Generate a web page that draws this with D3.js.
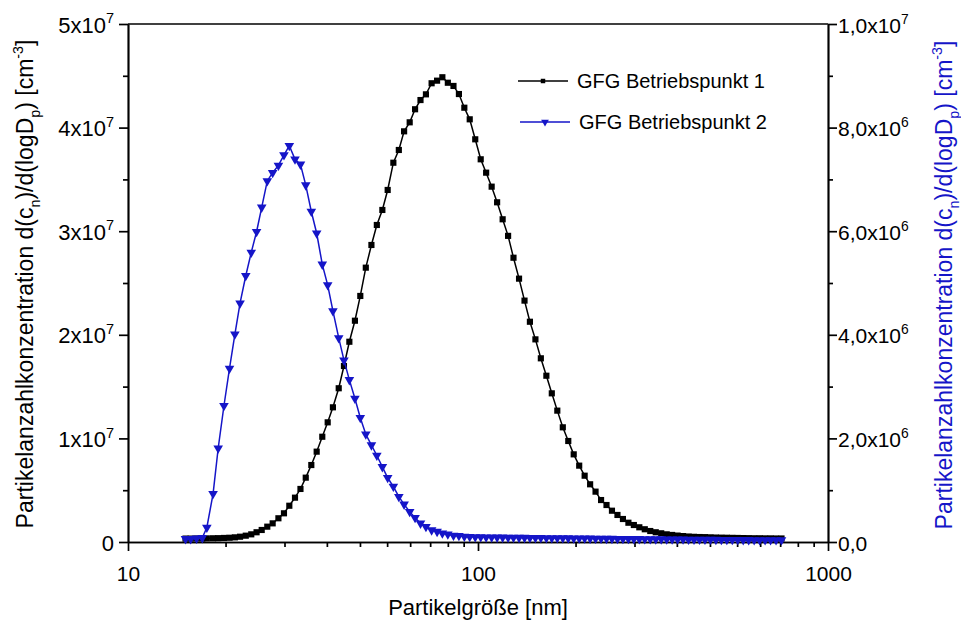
<!DOCTYPE html>
<html lang="de">
<head>
  <meta charset="UTF-8">
  <script src="https://d3js.org/d3.v7.min.js"></script>
  <title>Partikelgrößenverteilung</title>
  <style>
    body { margin: 0; background: #fff; }
    svg text { font-family: "Liberation Sans", Arial, sans-serif; fill: #000; }
  </style>
</head>
<body>
<script>
  // SMPS channel midpoints [nm]
  const diameters = [
    14.6, 15.1, 15.7, 16.3, 16.8, 17.5, 18.1, 18.8, 19.5, 20.2,
    20.9, 21.7, 22.5, 23.3, 24.1, 25.0, 25.9, 26.9, 27.9, 28.9,
    30.0, 31.1, 32.2, 33.4, 34.6, 35.9, 37.2, 38.5, 40.0, 41.4,
    42.9, 44.5, 46.1, 47.8, 49.6, 51.4, 53.3, 55.2, 57.3, 59.4,
    61.5, 63.8, 66.1, 68.5, 71.0, 73.7, 76.4, 79.1, 82.0, 85.1,
    88.2, 91.4, 94.7, 98.2, 101.8, 105.5, 109.4, 113.4, 117.6, 121.9,
    126.3, 131.0, 135.8, 140.7, 145.9, 151.2, 156.8, 162.5, 168.5, 174.7,
    181.1, 187.7, 194.6, 201.7, 209.1, 216.7, 224.7, 232.9, 241.4, 250.3,
    259.5, 269.0, 278.8, 289.0, 299.6, 310.6, 322.0, 333.8, 346.0, 358.7,
    371.8, 385.4, 399.5, 414.2, 429.4, 445.1, 461.4, 478.3, 495.8, 514.0,
    532.8, 552.3, 572.5, 593.5, 615.3, 637.8, 661.2, 685.4, 710.5, 736.5
  ];

  // GFG Betriebspunkt 1 (left axis), cm^-3
  const gfg1 = [
    0.33e6, 0.33e6, 0.34e6, 0.34e6, 0.35e6, 0.36e6, 0.37e6, 0.39e6, 0.41e6, 0.45e6,
    0.51e6, 0.61e6, 0.74e6, 0.94e6, 1.16e6, 1.48e6, 1.80e6, 2.29e6, 2.77e6, 3.50e6,
    4.28e6, 5.12e6, 6.21e6, 7.43e6, 8.72e6, 10.16e6, 11.55e6, 13.00e6, 14.84e6, 16.99e6,
    19.33e6, 21.36e6, 23.75e6, 26.48e6, 28.67e6, 30.60e6, 32.05e6, 33.98e6, 36.61e6, 37.84e6,
    39.64e6, 40.51e6, 41.77e6, 42.66e6, 43.21e6, 44.28e6, 44.53e6, 44.86e6, 44.33e6, 44.02e6,
    43.24e6, 41.92e6, 40.80e6, 38.87e6, 36.94e6, 35.65e6, 34.30e6, 32.79e6, 31.15e6, 29.55e6,
    27.44e6, 25.42e6, 23.30e6, 21.26e6, 19.56e6, 17.73e6, 16.05e6, 14.35e6, 12.68e6, 11.07e6,
    9.75e6, 8.46e6, 7.37e6, 6.40e6, 5.57e6, 4.86e6, 4.05e6, 3.57e6, 3.02e6, 2.61e6,
    2.22e6, 1.86e6, 1.64e6, 1.42e6, 1.23e6, 1.06e6, 0.94e6, 0.84e6, 0.74e6, 0.68e6,
    0.62e6, 0.57e6, 0.53e6, 0.50e6, 0.48e6, 0.47e6, 0.45e6, 0.43e6, 0.42e6, 0.41e6,
    0.40e6, 0.39e6, 0.38e6, 0.37e6, 0.36e6, 0.36e6, 0.35e6, 0.35e6, 0.34e6, 0.34e6
  ];

  // GFG Betriebspunkt 2 (right axis), cm^-3
  const gfg2 = [
    0.06e6, 0.06e6, 0.07e6, 0.08e6, 0.28e6, 0.93e6, 1.81e6, 2.63e6, 3.35e6, 4.01e6,
    4.61e6, 5.14e6, 5.59e6, 5.99e6, 6.46e6, 6.97e6, 7.13e6, 7.27e6, 7.47e6, 7.65e6,
    7.39e6, 7.29e6, 6.89e6, 6.38e6, 5.96e6, 5.36e6, 4.96e6, 4.46e6, 3.94e6, 3.51e6,
    3.13e6, 2.77e6, 2.40e6, 2.08e6, 1.87e6, 1.67e6, 1.45e6, 1.24e6, 1.07e6, 0.875e6,
    0.727e6, 0.585e6, 0.470e6, 0.360e6, 0.296e6, 0.230e6, 0.200e6, 0.168e6, 0.149e6, 0.125e6,
    0.120e6, 0.105e6, 0.100e6, 0.097e6, 0.096e6, 0.093e6, 0.092e6, 0.090e6, 0.089e6, 0.087e6,
    0.086e6, 0.085e6, 0.084e6, 0.083e6, 0.081e6, 0.081e6, 0.079e6, 0.078e6, 0.077e6, 0.076e6,
    0.075e6, 0.073e6, 0.073e6, 0.071e6, 0.070e6, 0.069e6, 0.068e6, 0.066e6, 0.066e6, 0.064e6,
    0.063e6, 0.062e6, 0.061e6, 0.060e6, 0.059e6, 0.058e6, 0.056e6, 0.056e6, 0.055e6, 0.054e6,
    0.053e6, 0.052e6, 0.050e6, 0.050e6, 0.049e6, 0.048e6, 0.047e6, 0.046e6, 0.045e6, 0.044e6,
    0.043e6, 0.042e6, 0.041e6, 0.041e6, 0.040e6, 0.040e6, 0.039e6, 0.039e6, 0.038e6, 0.038e6
  ];

  // axis ticks
  const xMajor = [10, 100, 1000];
  const xMinor = [19, 28, 37, 46, 55, 64, 73, 82, 91, 190, 280, 370, 460, 550, 640, 730, 820, 910];
  const leftMajor = [0, 1e7, 2e7, 3e7, 4e7, 5e7];
  const leftMinor = [0.5e7, 1.5e7, 2.5e7, 3.5e7, 4.5e7];
  const leftLabels = [["0", ""], ["1x10", "7"], ["2x10", "7"], ["3x10", "7"], ["4x10", "7"], ["5x10", "7"]];
  const rightMajor = [0, 2e6, 4e6, 6e6, 8e6, 1e7];
  const rightMinor = [1e6, 3e6, 5e6, 7e6, 9e6];
  const rightLabels = [["0,0", ""], ["2,0x10", "6"], ["4,0x10", "6"], ["6,0x10", "6"], ["8,0x10", "6"], ["1,0x10", "7"]];
  const seriesNames = ["GFG Betriebspunkt 1", "GFG Betriebspunkt 2"];

  const width = 961, height = 620;
  const blue = "#1515c8";
  const plot = { left: 128, right: 828, top: 24, bottom: 542 };

  const svg = d3.select("body").append("svg")
    .attr("width", width)
    .attr("height", height);

  const x = d3.scaleLog().domain([10, 1000]).range([plot.left, plot.right]);
  const yL = d3.scaleLinear().domain([0, 5e7]).range([plot.bottom, plot.top]);
  const yR = d3.scaleLinear().domain([0, 1e7]).range([plot.bottom, plot.top]);

  // helper: text with sub/superscript parts
  function richText(sel, parts, fs, small) {
    let shift = 0;
    parts.forEach(p => {
      if (!p.t) return;
      const ts = sel.append("tspan").text(p.t);
      let target = 0;
      if (p.k === "sub") target = fs * 0.3;
      if (p.k === "sup") target = -fs * 0.42;
      ts.attr("dy", target - shift);
      shift = target;
      ts.style("font-size", p.k ? (fs * (small || 0.62)) + "px" : fs + "px");
    });
  }

  // axes
  const axStroke = 1.7;
  function styleAxis(g) {
    g.selectAll("path, line").attr("stroke", "#000").attr("stroke-width", axStroke);
    g.selectAll("text").remove();
  }

  svg.append("g").attr("transform", `translate(0,${plot.bottom})`)
    .call(d3.axisBottom(x).tickValues(xMinor).tickSize(5).tickSizeOuter(0).tickFormat(""))
    .call(styleAxis);
  const xAx = svg.append("g").attr("transform", `translate(0,${plot.bottom})`)
    .call(d3.axisBottom(x).tickValues(xMajor).tickSize(9).tickSizeOuter(0).tickFormat(d3.format("d")))
    .call(g => g.selectAll("path, line").attr("stroke", "#000").attr("stroke-width", axStroke));
  xAx.selectAll("text")
    .attr("y", 39).attr("dy", 0)
    .style("font-size", "21px")
    .style("font-family", "'Liberation Sans', Arial, sans-serif")
    .attr("fill", "#000");

  svg.append("g").attr("transform", `translate(${plot.left},0)`)
    .call(d3.axisLeft(yL).tickValues(leftMinor).tickSize(5).tickSizeOuter(0).tickFormat(""))
    .call(styleAxis);
  const yAxL = svg.append("g").attr("transform", `translate(${plot.left},0)`)
    .call(d3.axisLeft(yL).tickValues(leftMajor).tickSize(9).tickSizeOuter(0).tickFormat(""))
    .call(styleAxis);
  yAxL.selectAll(".tick").each(function (d, i) {
    const t = d3.select(this).append("text")
      .attr("x", -14).attr("y", 8)
      .attr("text-anchor", "end");
    richText(t, [{ t: leftLabels[i][0] }, { t: leftLabels[i][1], k: "sup" }], 22, 0.66);
  });

  svg.append("g").attr("transform", `translate(${plot.right},0)`)
    .call(d3.axisRight(yR).tickValues(rightMinor).tickSize(5).tickSizeOuter(0).tickFormat(""))
    .call(styleAxis);
  const yAxR = svg.append("g").attr("transform", `translate(${plot.right},0)`)
    .call(d3.axisRight(yR).tickValues(rightMajor).tickSize(9).tickSizeOuter(0).tickFormat(""))
    .call(styleAxis);
  yAxR.selectAll(".tick").each(function (d, i) {
    const t = d3.select(this).append("text")
      .attr("x", 10).attr("y", 8)
      .attr("text-anchor", "start");
    richText(t, [{ t: rightLabels[i][0] }, { t: rightLabels[i][1], k: "sup" }], 21, 0.66);
  });

  // top frame line
  svg.append("line")
    .attr("x1", plot.left).attr("x2", plot.right)
    .attr("y1", plot.top).attr("y2", plot.top)
    .attr("stroke", "#000").attr("stroke-width", axStroke);

  // axis titles
  svg.append("text")
    .attr("x", (plot.left + plot.right) / 2).attr("y", 615)
    .attr("text-anchor", "middle")
    .style("font-size", "22px")
    .text("Partikelgröße [nm]");

  const yTitleParts = [
    { t: "Partikelanzahlkonzentration d(c" }, { t: "n", k: "sub" }, { t: ")/d(logD" },
    { t: "p", k: "sub" }, { t: ") [cm" }, { t: "-3", k: "sup" }, { t: "]" }
  ];
  const tl = svg.append("text")
    .attr("transform", `translate(33,${(plot.top + plot.bottom) / 2 + 1}) rotate(-90)`)
    .attr("text-anchor", "middle");
  richText(tl, yTitleParts, 23);

  const tr = svg.append("text")
    .attr("transform", `translate(952,${(plot.top + plot.bottom) / 2 + 2}) rotate(-90)`)
    .attr("text-anchor", "middle")
    .style("fill", blue);
  richText(tr, yTitleParts, 23);
  tr.selectAll("tspan").style("fill", blue);

  // series
  const pts1 = diameters.map((d, i) => [d, gfg1[i]]);
  const pts2 = diameters.map((d, i) => [d, gfg2[i]]);

  svg.append("path")
    .datum(pts1)
    .attr("fill", "none").attr("stroke", "#000").attr("stroke-width", 1.5)
    .attr("d", d3.line().x(d => x(d[0])).y(d => yL(d[1])));
  svg.append("g").selectAll("path")
    .data(pts1).enter().append("path")
    .attr("transform", d => `translate(${x(d[0])},${yL(d[1])})`)
    .attr("d", d3.symbol(d3.symbolSquare, 38))
    .attr("fill", "#000");

  svg.append("path")
    .datum(pts2)
    .attr("fill", "none").attr("stroke", blue).attr("stroke-width", 1.5)
    .attr("d", d3.line().x(d => x(d[0])).y(d => yR(d[1])));
  svg.append("g").selectAll("path")
    .data(pts2).enter().append("path")
    .attr("transform", d => `translate(${x(d[0])},${yR(d[1])}) rotate(180)`)
    .attr("d", d3.symbol(d3.symbolTriangle, 40))
    .attr("fill", blue);

  // legend
  const legend = svg.append("g");
  const legRows = [
    { name: seriesNames[0], color: "#000", sym: d3.symbolSquare, size: 20, rot: 0, y: 81, x0: 518 },
    { name: seriesNames[1], color: blue, sym: d3.symbolTriangle, size: 26, rot: 180, y: 122, x0: 520 }
  ];
  legRows.forEach(r => {
    legend.append("line")
      .attr("x1", r.x0).attr("x2", r.x0 + 50)
      .attr("y1", r.y).attr("y2", r.y)
      .attr("stroke", r.color).attr("stroke-width", 1.4);
    legend.append("path")
      .attr("transform", `translate(${r.x0 + 25},${r.y}) rotate(${r.rot})`)
      .attr("d", d3.symbol(r.sym, r.size))
      .attr("fill", r.color);
    legend.append("text")
      .attr("x", r.x0 + 59).attr("y", r.y + 7)
      .style("font-size", "20px")
      .text(r.name);
  });
</script>
</body>
</html>
